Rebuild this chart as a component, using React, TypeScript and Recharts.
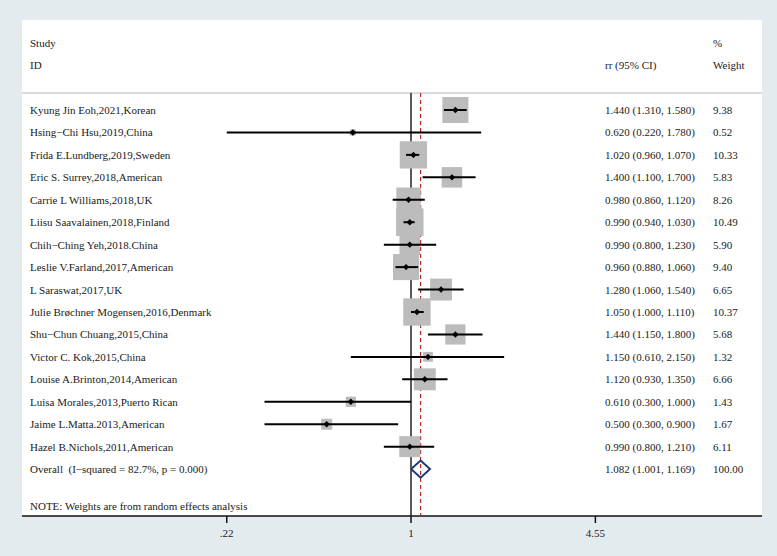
import React from "react";
import { ComposedChart, XAxis, YAxis, Scatter, CartesianGrid } from "recharts";

const studyNames = [
  "Kyung Jin Eoh,2021,Korean",
  "Hsing\u2212Chi Hsu,2019,China",
  "Frida E.Lundberg,2019,Sweden",
  "Eric S. Surrey,2018,American",
  "Carrie L Williams,2018,UK",
  "Liisu Saavalainen,2018,Finland",
  "Chih\u2212Ching Yeh,2018.China",
  "Leslie V.Farland,2017,American",
  "L Saraswat,2017,UK",
  "Julie Br\u00f8chner Mogensen,2016,Denmark",
  "Shu\u2212Chun Chuang,2015,China",
  "Victor C. Kok,2015,China",
  "Louise A.Brinton,2014,American",
  "Luisa Morales,2013,Puerto Rican",
  "Jaime L.Matta.2013,American",
  "Hazel B.Nichols,2011,American",
];
const rrValues = [1.44, 0.62, 1.02, 1.4, 0.98, 0.99, 0.99, 0.96, 1.28, 1.05, 1.44, 1.15, 1.12, 0.61, 0.5, 0.99];
const ciLow = [1.31, 0.22, 0.96, 1.1, 0.86, 0.94, 0.8, 0.88, 1.06, 1.0, 1.15, 0.61, 0.93, 0.3, 0.3, 0.8];
const ciHigh = [1.58, 1.78, 1.07, 1.7, 1.12, 1.03, 1.23, 1.06, 1.54, 1.11, 1.8, 2.15, 1.35, 1.0, 0.9, 1.21];
const weights = [9.38, 0.52, 10.33, 5.83, 8.26, 10.49, 5.9, 9.4, 6.65, 10.37, 5.68, 1.32, 6.66, 1.43, 1.67, 6.11];

const overallLabel = "Overall  (I\u2212squared = 82.7%, p = 0.000)";
const overallRR = 1.082;
const overallLow = 1.001;
const overallHigh = 1.169;
const overallWeight = "100.00";
const noteText = "NOTE: Weights are from random effects analysis";

const xTicks = [0.22, 1, 4.55];
const xTickLabels = [".22", "1", "4.55"];

const X_DOMAIN = [0.0409, 17.89];
const Y_DOMAIN = [-4.01, 18.09];
const HEADER_ROW1 = -3;
const HEADER_ROW2 = -2;
const SEP_ROW = -0.76;
const OVERALL_ROW = studyNames.length;
const NOTE_ROW = 17.65;

const fmt = (v: number) => v.toFixed(3);

const studies = studyNames.map((name, i) => ({
  name,
  x: rrValues[i],
  y: i,
  w: weights[i],
}));

const ciSegments = studyNames.map((_, i) => [
  { x: ciLow[i], y: i },
  { x: ciHigh[i], y: i },
]);

const diamondHalf = 0.38;
const diamond = [
  { x: overallLow, y: OVERALL_ROW },
  { x: overallRR, y: OVERALL_ROW - diamondHalf },
  { x: overallHigh, y: OVERALL_ROW },
  { x: overallRR, y: OVERALL_ROW + diamondHalf },
  { x: overallLow, y: OVERALL_ROW },
];

const separator = [
  { x: X_DOMAIN[0], y: SEP_ROW },
  { x: X_DOMAIN[1], y: SEP_ROW },
];
const nullLine = [
  { x: 1, y: SEP_ROW },
  { x: 1, y: Y_DOMAIN[1] },
];
const overallLine = [
  { x: overallRR, y: SEP_ROW },
  { x: overallRR, y: Y_DOMAIN[1] },
];

type TextRow = { x: number; y: number; a?: string; b?: string; c?: string };
const textRows: TextRow[] = [
  { x: 1, y: HEADER_ROW1, a: "Study", c: "%" },
  { x: 1, y: HEADER_ROW2, a: "ID", b: "rr (95% CI)", c: "Weight" },
  ...studyNames.map((n, i) => ({
    x: 1,
    y: i,
    a: n,
    b: `${fmt(rrValues[i])} (${fmt(ciLow[i])}, ${fmt(ciHigh[i])})`,
    c: weights[i].toFixed(2),
  })),
  {
    x: 1,
    y: OVERALL_ROW,
    a: overallLabel,
    b: `${fmt(overallRR)} (${fmt(overallLow)}, ${fmt(overallHigh)})`,
    c: overallWeight,
  },
  { x: 1, y: NOTE_ROW, a: noteText },
];

const FONT = "'Liberation Serif', 'Times New Roman', serif";

const RowText = (props: any) => {
  const { cy, payload } = props;
  const common = {
    y: cy,
    dy: 4,
    fontSize: 11,
    fontFamily: FONT,
    fill: "#1a1a1a",
  };
  return (
    <g>
      {payload.a && (
        <text x={30} {...common} style={{ whiteSpace: "pre" }}>
          {payload.a}
        </text>
      )}
      {payload.b && (
        <text x={605} {...common}>
          {payload.b}
        </text>
      )}
      {payload.c && (
        <text x={713} {...common}>
          {payload.c}
        </text>
      )}
    </g>
  );
};

const SquareShape = (props: any) => {
  const { cx, cy, payload } = props;
  const s = 8.5 * Math.sqrt(payload.w);
  return <rect x={cx - s / 2} y={cy - s / 2} width={s} height={s} fill="#bcbcbc" />;
};

const PointShape = (props: any) => {
  const { cx, cy } = props;
  const d = 3.2;
  return (
    <polygon
      points={`${cx - d},${cy} ${cx},${cy - d} ${cx + d},${cy} ${cx},${cy + d}`}
      fill="#000"
    />
  );
};

const NoShape = () => <g />;

const XTick = (props: any) => {
  const { x, y, payload } = props;
  const label = xTickLabels[xTicks.indexOf(payload.value)] ?? "";
  return (
    <text x={x} y={y} dy={11} textAnchor="middle" fontSize={11} fontFamily={FONT} fill="#1a1a1a">
      {label}
    </text>
  );
};

export default function App() {
  return (
    <div
      style={{
        position: "absolute",
        left: 0,
        top: 0,
        width: 777,
        height: 556,
        background: "#e4ebef",
      }}
    >
      <ComposedChart
        width={777}
        height={556}
        margin={{ top: 20, right: 15, bottom: 10, left: 22 }}
      >
        <CartesianGrid horizontal={false} vertical={false} fill="#ffffff" />
        <XAxis
          type="number"
          dataKey="x"
          scale="log"
          domain={X_DOMAIN}
          allowDataOverflow
          ticks={xTicks}
          interval={0}
          height={30}
          tickSize={7}
          tickMargin={3}
          axisLine={{ stroke: "#111", strokeWidth: 1.5 }}
          tickLine={{ stroke: "#111", strokeWidth: 1.5 }}
          tick={<XTick />}
        />
        <YAxis
          type="number"
          dataKey="y"
          domain={Y_DOMAIN}
          reversed
          allowDataOverflow
          hide
        />
        <Scatter
          data={separator}
          line={{ stroke: "#cfcfcf", strokeWidth: 1.5 }}
          lineType="joint"
          shape={<NoShape />}
          isAnimationActive={false}
        />
        <Scatter
          data={nullLine}
          line={{ stroke: "#222", strokeWidth: 1.5 }}
          lineType="joint"
          shape={<NoShape />}
          isAnimationActive={false}
        />
        <Scatter
          data={overallLine}
          line={{ stroke: "#b22a2a", strokeWidth: 1.2, strokeDasharray: "4 3" }}
          lineType="joint"
          shape={<NoShape />}
          isAnimationActive={false}
        />
        <Scatter data={studies} shape={<SquareShape />} isAnimationActive={false} />
        {ciSegments.map((seg, i) => (
          <Scatter
            key={`ci-${i}`}
            data={seg}
            line={{ stroke: "#000", strokeWidth: 2 }}
            lineType="joint"
            shape={<NoShape />}
            isAnimationActive={false}
          />
        ))}
        <Scatter data={studies} shape={<PointShape />} isAnimationActive={false} />
        <Scatter
          data={diamond}
          line={{ stroke: "#1f3a7a", strokeWidth: 2 }}
          lineType="joint"
          shape={<NoShape />}
          isAnimationActive={false}
        />
        <Scatter data={textRows} shape={<RowText />} isAnimationActive={false} />
      </ComposedChart>
    </div>
  );
}
